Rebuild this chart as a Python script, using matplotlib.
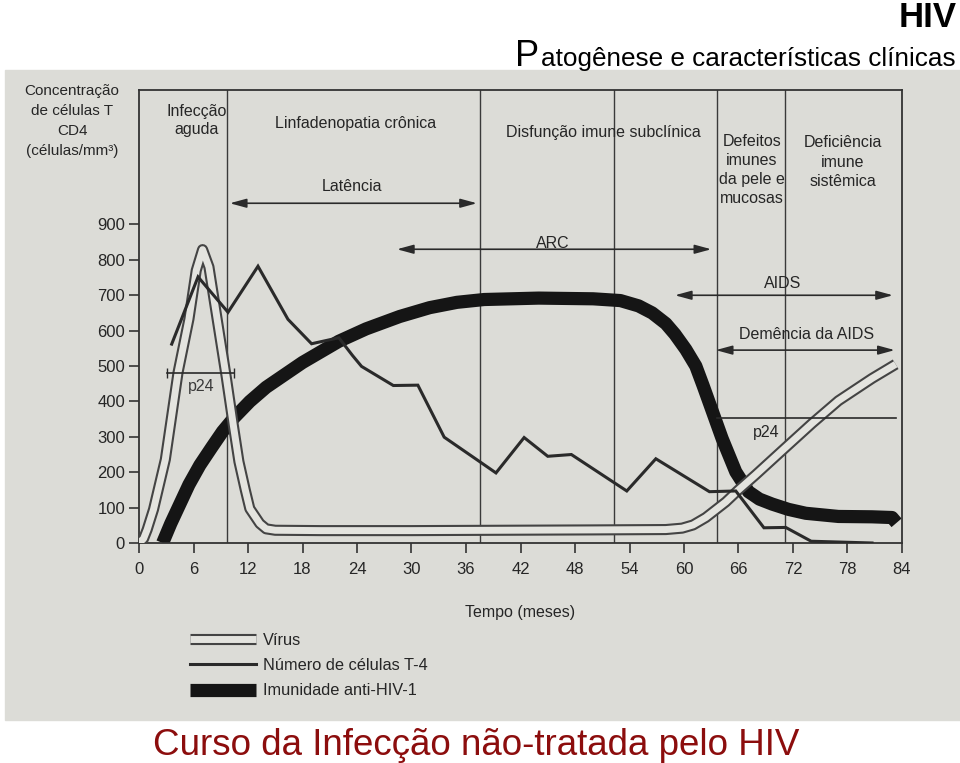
import matplotlib
matplotlib.use('Agg')
import matplotlib.pyplot as plt
import matplotlib.patheffects as pe
from matplotlib.patches import Rectangle

# --- data (months, cells/mm3) ---
virus_t = [0, 0.5, 0.9, 1.6, 2.9, 4.3, 5.5, 6.3, 7.0, 7.7, 8.6, 9.6, 10.4, 11.0, 11.7,
           12.2, 13.3, 14, 15, 20, 30, 40, 50, 58, 59.8, 61, 62.4, 64.6, 66, 67.9,
           70.8, 74.1, 77, 80.7, 83.3]
virus_v = [0, 12, 38, 95, 236, 482, 633, 770, 829, 780, 633, 470, 330, 230, 150,
           97, 55, 40, 36, 35, 35, 36, 37, 38, 42, 51, 72, 116, 150, 193,
           261, 338, 402, 465, 505]

t4_t = [3.6, 6.5, 9.8, 13.1, 16.4, 19, 22, 23.5, 24.5, 28, 30.7, 33.6, 37.5, 39.3,
        42.4, 45, 47.6, 53.7, 56.9, 62.8, 65.7, 68.8, 71.2, 74, 80.7]
t4_v = [562, 752, 652, 782, 632, 563, 580, 530, 499, 445, 446, 299, 230, 198,
        298, 245, 250, 147, 238, 145, 147, 43, 44, 5, 0]

imm_t = [2.6, 3.5, 4.5, 5.5, 6.7, 8, 9.2, 10.5, 12.2, 14, 16, 18, 20, 22, 25, 28.7,
         32, 35, 38, 44, 50, 53, 55, 56.5, 58, 59, 60.2, 61.3, 62.1, 62.9, 64.2,
         65.7, 67.1, 68.3, 69.7, 71.5, 73.4, 77, 80.7, 82.9, 83.4]
imm_v = [0, 55, 110, 165, 220, 270, 315, 355, 400, 440, 475, 510, 540, 570, 605, 640,
         665, 680, 688, 692, 690, 685, 670, 650, 620, 590, 547, 500, 445, 388, 295,
         201, 145, 124, 110, 95, 84, 75, 74, 72, 57]

x_ticks = list(range(0, 85, 6))
y_ticks = list(range(0, 1000, 100))
phase_bounds = [9.7, 37.5, 52.3, 63.6, 71.1]
phase_names = ['Infecção\naguda', 'Linfadenopatia crônica', 'Disfunção imune subclínica',
               'Defeitos\nimunes\nda pele e\nmucosas', 'Deficiência\nimune\nsistêmica']
spans = {'Latência': (10.0, 37.2), 'ARC': (28.4, 63.0), 'AIDS': (59.0, 83.0),
         'Demência da AIDS': (63.5, 83.2)}
legend_labels = ['Vírus', 'Número de células T-4', 'Imunidade anti-HIV-1']

plt.rcParams['font.family'] = ['Liberation Sans', 'DejaVu Sans']

ink = '#262626'
W, H = 960, 763

fig = plt.figure(figsize=(9.6, 7.63), dpi=100)
fig.patch.set_facecolor('white')
# photo background
fig.patches.append(Rectangle((5 / W, 1 - 720 / H), 955 / W, 650 / H,
                             transform=fig.transFigure, color='#dcdcd7', zorder=-5))

ax = fig.add_axes([139 / W, 1 - 543 / H, 763 / W, 453 / H])
ax.set_facecolor('none')
ax.set_xlim(0, 84)
ax.set_ylim(0, 1280)
for s in ax.spines.values():
    s.set_color('#333333')
    s.set_linewidth(1.3)
ax.set_xticks(x_ticks)
ax.set_yticks(y_ticks)
ax.tick_params(direction='out', length=7, width=1.2, color='#333333',
               labelsize=12, labelcolor=ink)
ax.tick_params(axis='x', pad=7)
ax.tick_params(axis='y', pad=3)

for b in phase_bounds:
    ax.axvline(b, color='#3a3a3a', lw=1.0, zorder=1)

li, = ax.plot(imm_t, imm_v, color='#151515', lw=9.5, solid_capstyle='butt',
              solid_joinstyle='round', zorder=2)
lv, = ax.plot(virus_t, virus_v, color='#e4e4df', lw=5.0, solid_capstyle='butt', zorder=3,
              path_effects=[pe.Stroke(linewidth=8, foreground='#444444'), pe.Normal()])
lt, = ax.plot(t4_t, t4_v, color='#2a2a2a', lw=2.2, solid_joinstyle='miter', zorder=4)

# phase headings
ax.text(6.3, 1195, phase_names[0], ha='center', va='center', fontsize=11.5, color=ink,
        linespacing=1.25)
ax.text(23.8, 1186, phase_names[1], ha='center', va='center', fontsize=11.5, color=ink)
ax.text(51.1, 1161, phase_names[2], ha='center', va='center', fontsize=11.5, color=ink)
ax.text(67.5, 1054, phase_names[3], ha='center', va='center', fontsize=11.5, color=ink,
        linespacing=1.32)
ax.text(77.5, 1076, phase_names[4], ha='center', va='center', fontsize=11.5, color=ink,
        linespacing=1.4)

# double-headed spans
ys = {'Latência': 960, 'ARC': 830, 'AIDS': 700, 'Demência da AIDS': 545}
labs = {'Latência': (23.5, 1006), 'ARC': (45.6, 847), 'AIDS': (70.9, 734),
        'Demência da AIDS': (73.5, 590)}
for k, (a, b) in spans.items():
    ax.annotate('', xy=(b, ys[k]), xytext=(a, ys[k]),
                arrowprops=dict(arrowstyle='<|-|>,head_length=1.1,head_width=0.3',
                                lw=1.2, color='#2a2a2a', shrinkA=0, shrinkB=0,
                                mutation_scale=9))
    ax.text(labs[k][0], labs[k][1], k, ha='center', va='center', fontsize=11.5, color=ink)

# p24 markers
ax.plot([3.1, 10.5], [480, 480], color='#2a2a2a', lw=1.2, marker='|', ms=7, zorder=5)
ax.text(6.9, 443, 'p24', ha='center', va='center', fontsize=11.5, color='#3a3a3a')
ax.plot([63.6, 83.3], [352, 352], color='#2a2a2a', lw=1.2, zorder=5)
ax.text(69.0, 311, 'p24', ha='center', va='center', fontsize=11.5, color=ink)

# axis titles
fig.text(72 / W, 1 - 121 / H, 'Concentração\nde células T\nCD4\n(células/mm³)',
         ha='center', va='center', fontsize=11, color=ink, linespacing=1.55)
fig.text(520 / W, 1 - 613 / H, 'Tempo (meses)', ha='center', va='center',
         fontsize=11.5, color=ink)

fig.legend(handles=[lv, lt, li], labels=legend_labels, loc='upper left',
           bbox_to_anchor=(190 / W, 1 - 633 / H), frameon=False, fontsize=11.8,
           handlelength=4.0, handletextpad=0.45, labelspacing=0.62, borderpad=0,
           borderaxespad=0, labelcolor=ink)

# slide titles
fig.text(957 / W, 1 - 27 / H, 'HIV', ha='right', va='baseline', fontsize=25,
         fontweight='bold', color='black')
fig.text(515 / W, 1 - 66 / H, 'P', ha='left', va='baseline', fontsize=26, color='black')
fig.text(541 / W, 1 - 66 / H, 'atogênese e características clínicas', ha='left',
         va='baseline', fontsize=18.8, color='black')
fig.text(476 / W, 1 - 755 / H, 'Curso da Infecção não-tratada pelo HIV', ha='center',
         va='baseline', fontsize=26.5, color='#8c0d0d')

fig.savefig('out.png', dpi=100)
